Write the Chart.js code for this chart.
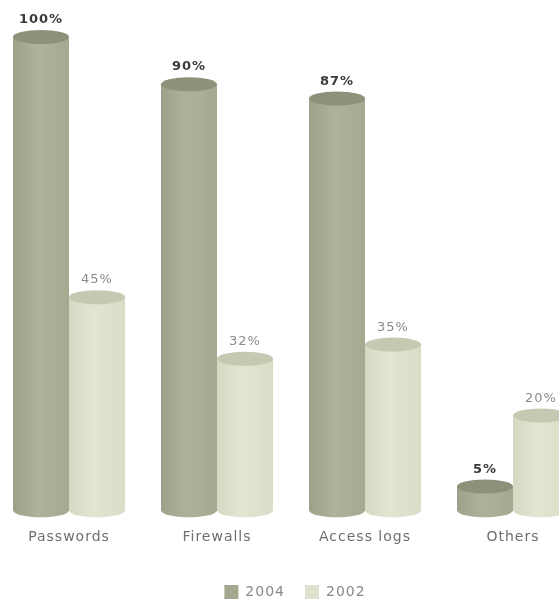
<!DOCTYPE html>
<html>
<head>
<meta charset="utf-8">
<script src="https://cdn.jsdelivr.net/npm/chart.js@4/dist/chart.umd.min.js"></script>
<style>
  html, body { margin: 0; padding: 0; background: #fff; overflow: hidden; }
  #wrap { position: absolute; left: -5px; top: 0; width: 614px; height: 611px; }
</style>
</head>
<body>
<div id="wrap"><canvas id="chart"></canvas></div>
<script>
const categories = ["Passwords", "Firewalls", "Access logs", "Others"];
const values2004 = [100, 90, 87, 5];
const values2002 = [45, 32, 35, 20];

// body gradient stops, top face and label style per series
const looks = [
    {stops: ["#9ea189", "#afb19a", "#a6a990"], top: "#8e917a", label: "#3a3a36", weight: "bold"},
    {stops: ["#d6d8c3", "#e3e5d3", "#dadcc7"], top: "#c6c8b2", label: "#8a8b86", weight: "normal"},
];

const RY = 7;

const cylinders = {
    id: "cylinders",
    beforeDraw(chart) {
        chart.ctx.letterSpacing = "1px";
    },
    beforeDatasetDraw(chart, args) {
        const ctx = chart.ctx;
        const look = looks[args.index];
        const data = chart.data.datasets[args.index].data;
        args.meta.data.forEach((bar, i) => {
            const {x, y, base, width} = bar.getProps(["x", "y", "base", "width"], true);
            const rx = width / 2;
            ctx.save();
            const g = ctx.createLinearGradient(x - rx, 0, x + rx, 0);
            g.addColorStop(0, look.stops[0]);
            g.addColorStop(0.45, look.stops[1]);
            g.addColorStop(1, look.stops[2]);
            ctx.beginPath();
            ctx.moveTo(x - rx, y);
            ctx.lineTo(x - rx, base);
            ctx.ellipse(x, base, rx, RY, 0, Math.PI, 0, true);
            ctx.lineTo(x + rx, y);
            ctx.closePath();
            ctx.fillStyle = g;
            ctx.fill();

            ctx.beginPath();
            ctx.ellipse(x, y, rx, RY, 0, 0, Math.PI * 2);
            ctx.fillStyle = look.top;
            ctx.fill();

            ctx.letterSpacing = "1px";
            ctx.font = look.weight + " 13px 'DejaVu Sans'";
            ctx.fillStyle = look.label;
            ctx.textAlign = "center";
            ctx.textBaseline = "alphabetic";
            ctx.fillText(data[i] + "%", x, y - RY - 7);
            ctx.restore();
        });
        return false;
    },
};

new Chart(document.getElementById("chart"), {
    type: "bar",
    data: {
        labels: categories,
        datasets: [
            {label: "2004", data: values2004, backgroundColor: "#a5a78f", borderWidth: 0},
            {label: "2002", data: values2002, backgroundColor: "#dfe1cc", borderWidth: 0},
        ],
    },
    options: {
        responsive: true,
        maintainAspectRatio: false,
        animation: false,
        layout: {
            padding: {top: 37, left: 0, right: 22, bottom: 2},
        },
        datasets: {
            bar: {categoryPercentage: 0.757, barPercentage: 1},
        },
        scales: {
            x: {
                grid: {display: false, drawTicks: false},
                border: {display: false},
                ticks: {
                    color: "#6e6e6a",
                    padding: 19,
                    font: {family: "'DejaVu Sans'", size: 14},
                },
            },
            y: {
                display: false,
                min: 0,
                max: 100,
            },
        },
        plugins: {
            legend: {
                position: "bottom",
                labels: {
                    boxWidth: 14,
                    boxHeight: 14,
                    padding: 20,
                    color: "#8a8b86",
                    font: {family: "'DejaVu Sans'", size: 14},
                },
            },
            tooltip: {enabled: false},
        },
    },
    plugins: [cylinders],
});
</script>
</body>
</html>
